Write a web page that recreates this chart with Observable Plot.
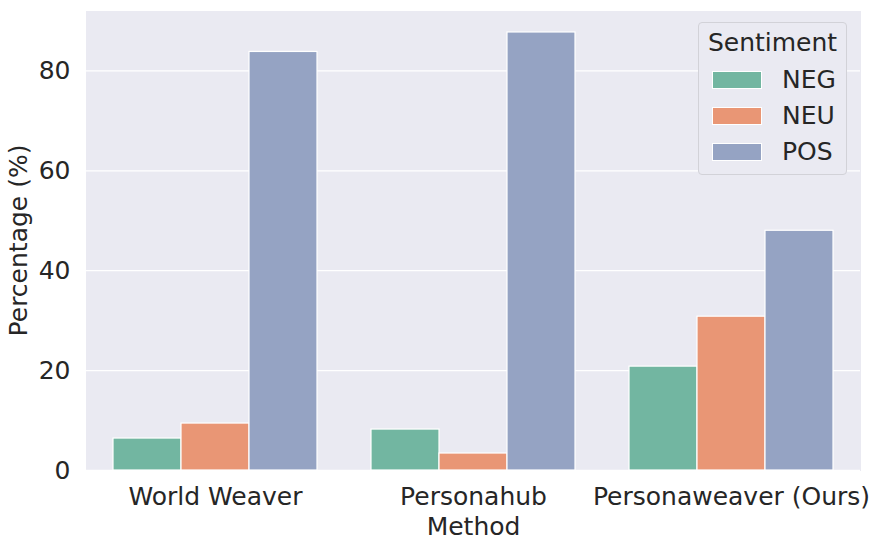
<!DOCTYPE html>
<html>
<head>
<meta charset="utf-8">
<script src="https://cdn.jsdelivr.net/npm/d3@7"></script>
<script src="https://cdn.jsdelivr.net/npm/@observablehq/plot@0.6"></script>
<style>
  body { margin: 0; background: #fff; }
  #wrap { position: relative; width: 879px; height: 548px; font-family: "DejaVu Sans", sans-serif; color: #262626; }
  #legend { position: absolute; left: 698px; top: 22px; width: 149px; height: 153px; box-sizing: border-box;
    border: 1px solid #d2d2d8; border-radius: 4px; background: #eaeaf2; }
  #legend .title { position: absolute; left: 0; width: 100%; top: 7px; text-align: center; font-size: 25px; line-height: 25px; }
  #legend .row { position: absolute; left: 13px; height: 17px; }
  #legend .sw { position: absolute; left: 0; top: 0; width: 48px; height: 16px; border: 1px solid #fff; }
  #legend .lab { position: absolute; left: 70px; top: -4.5px; font-size: 25px; line-height: 25px; white-space: nowrap; }
</style>
</head>
<body>
<div id="wrap"></div>
<script>
const methods = ["World Weaver", "Personahub", "Personaweaver (Ours)"];
const sentiments = ["NEG", "NEU", "POS"];
const negValues = [6.4, 8.2, 20.8];
const neuValues = [9.4, 3.4, 30.8];
const posValues = [83.8, 87.7, 48.0];
const yTicks = [0, 20, 40, 60, 80];
const colors = ["#72b6a1", "#e99675", "#95a3c3"];

const series = [negValues, neuValues, posValues];
const data = [];
methods.forEach((m, i) => sentiments.forEach((s, j) => data.push({method: m, sentiment: s, value: series[j][i]})));

const chart = Plot.plot({
  width: 879,
  height: 548,
  marginTop: 10,
  marginBottom: 78,
  marginLeft: 86,
  marginRight: 19,
  style: {fontFamily: "DejaVu Sans, sans-serif", fontSize: "25px", color: "#262626", background: "white"},
  fx: {domain: methods, padding: 0, label: null},
  x: {domain: sentiments, paddingInner: 0, paddingOuter: 0.38, axis: null},
  y: {domain: [0, 92.1]},
  color: {domain: sentiments, range: colors},
  marks: [
    Plot.frame({fill: "#eaeaf2", stroke: null, insetLeft: -0.6, insetRight: -0.6, shapeRendering: "crispEdges"}),
    Plot.gridY(yTicks, {stroke: "white", strokeOpacity: 1, strokeWidth: 1.3}),
    Plot.barY(data, {fx: "method", x: "sentiment", y: "value", fill: "sentiment", stroke: "white", strokeWidth: 1.2}),
    Plot.axisY(yTicks, {tickSize: 0, tickPadding: 16, label: "Percentage (%)", labelAnchor: "center", labelArrow: "none", labelOffset: 77}),
    Plot.axisFx({anchor: "bottom", tickSize: 0, tickPadding: 16.5, label: "Method", labelAnchor: "center", labelArrow: "none", labelOffset: 64})
  ]
});
const wrap = document.getElementById("wrap");
wrap.appendChild(chart);

const leg = document.createElement("div");
leg.id = "legend";
leg.innerHTML = '<div class="title">Sentiment</div>' + sentiments.map((s, i) =>
  `<div class="row" style="top:${48 + i * 36}px"><div class="sw" style="background:${colors[i]}"></div><div class="lab">${s}</div></div>`).join("");
wrap.appendChild(leg);
</script>
</body>
</html>
